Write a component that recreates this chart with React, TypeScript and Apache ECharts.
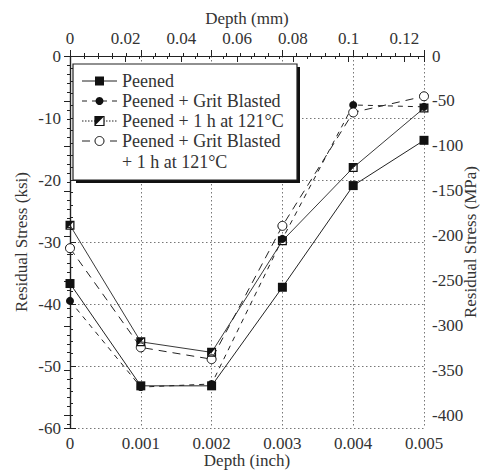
import React, { useEffect, useRef } from "react";
import * as echarts from "echarts";

const depthInch = [0, 0.001, 0.002, 0.003, 0.004, 0.005];
const peened = [-36.7, -53.2, -53.2, -37.3, -20.9, -13.6];
const peenedGrit = [-39.5, -53.4, -52.9, -29.5, -7.9, -8.2];
const peenedHeat = [-27.3, -46.1, -47.8, -29.8, -18.0, -8.4];
const peenedGritHeat = [-31.0, -47.0, -48.9, -27.4, -9.1, -6.5];
const legendNames = [
  "Peened",
  "Peened + Grit Blasted",
  "Peened + 1 h at 121\u00b0C",
  "Peened + Grit Blasted",
  "+ 1 h at 121\u00b0C",
];

const KSI_TO_MPA = 6.894757;
const FONT = "Liberation Serif";
const INK = "#222";
const TXT = "#333";

const halfSquare =
  "path://M0,0 L10,0 L10,10 L0,10 Z M1.4,1.4 L1.4,8.6 L8.6,8.6 L8.6,1.4 Z M0,0 L10,0 L0,10 Z";

function pts(ys: number[]) {
  return depthInch.map((x, i) => [x, ys[i]]);
}

export default function App() {
  const ref = useRef<HTMLDivElement>(null);
  useEffect(() => {
    if (!ref.current) return;
    const chart = echarts.init(ref.current, null, { renderer: "svg" });
    const labelStyle = { color: TXT, fontFamily: FONT, fontSize: 17 };
    const nameStyle = { color: TXT, fontFamily: FONT, fontSize: 17 };
    const axisLine = { show: true, lineStyle: { color: INK, width: 1.2 } };
    const dotted = { show: true, lineStyle: { color: "#777", type: [1.5, 2.5], width: 1 } };

    const lx = 82, rx = 117, mx = 99.5, tx = 122;
    const rows = [81, 101, 121, 141, 162];
    const legendGraphics: any[] = [
      { type: "rect", shape: { x: 76, y: 67, width: 224, height: 116 }, style: { fill: "#111" }, z: 10 },
      { type: "rect", shape: { x: 73, y: 64, width: 224, height: 116 }, style: { fill: "#fff", stroke: INK, lineWidth: 1.2 }, z: 11 },
      { type: "line", shape: { x1: lx, y1: rows[0], x2: rx, y2: rows[0] }, style: { stroke: INK, lineWidth: 1 }, z: 12 },
      { type: "rect", shape: { x: mx - 4.5, y: rows[0] - 4.5, width: 9, height: 9 }, style: { fill: "#111" }, z: 13 },
      { type: "line", shape: { x1: lx, y1: rows[1], x2: rx, y2: rows[1] }, style: { stroke: INK, lineWidth: 1, lineDash: [5, 5] }, z: 12 },
      { type: "circle", shape: { cx: mx, cy: rows[1], r: 4 }, style: { fill: "#111" }, z: 13 },
      { type: "line", shape: { x1: lx, y1: rows[2], x2: rx, y2: rows[2] }, style: { stroke: INK, lineWidth: 1, lineDash: [1.5, 1.5] }, z: 12 },
      { type: "rect", shape: { x: mx - 4.5, y: rows[2] - 4.5, width: 9, height: 9 }, style: { fill: "#fff", stroke: "#111", lineWidth: 1.2 }, z: 13 },
      { type: "polygon", shape: { points: [[mx - 4.5, rows[2] - 4.5], [mx + 4.5, rows[2] - 4.5], [mx - 4.5, rows[2] + 4.5]] }, style: { fill: "#111" }, z: 14 },
      { type: "line", shape: { x1: lx, y1: rows[3], x2: rx, y2: rows[3] }, style: { stroke: INK, lineWidth: 1, lineDash: [8, 6] }, z: 12 },
      { type: "circle", shape: { cx: mx, cy: rows[3], r: 4.5 }, style: { fill: "#fff", stroke: "#111", lineWidth: 1 }, z: 13 },
    ];
    legendNames.forEach((n, i) => {
      legendGraphics.push({
        type: "text",
        x: tx,
        y: rows[i],
        style: { text: n, fill: TXT, fontFamily: FONT, fontSize: 18, verticalAlign: "middle", align: "left" },
        z: 13,
      });
    });

    chart.setOption({
      animation: false,
      backgroundColor: "#fff",
      grid: { left: 70, right: 64, top: 56, bottom: 45, containLabel: false, outerBoundsMode: "none" },
      xAxis: [
        {
          type: "value",
          position: "bottom",
          min: 0,
          max: 0.005,
          interval: 0.001,
          name: "Depth (inch)",
          nameLocation: "middle",
          nameGap: 24,
          nameMoveOverlap: false,
          nameTextStyle: nameStyle,
          axisLine,
          axisTick: { show: true, inside: true, length: 6, lineStyle: { color: INK } },
          minorTick: { show: true, splitNumber: 5, length: 3, lineStyle: { color: INK } },
          axisLabel: { ...labelStyle, margin: 7, formatter: (v: number) => (v === 0 ? "0" : v.toFixed(3)) },
          splitLine: dotted,
        },
        {
          type: "value",
          position: "top",
          min: 0,
          max: 0.005 * 25.4,
          interval: 0.02,
          name: "Depth (mm)",
          nameLocation: "middle",
          nameGap: 29,
          nameMoveOverlap: false,
          nameTextStyle: nameStyle,
          axisLine,
          axisTick: { show: true, inside: true, length: 6, lineStyle: { color: INK } },
          minorTick: { show: true, splitNumber: 4, length: 3, lineStyle: { color: INK } },
          axisLabel: { ...labelStyle, margin: 9, showMaxLabel: false, formatter: (v: number) => (v === 0 ? "0" : String(+v.toFixed(2))) },
          splitLine: { show: false },
        },
      ],
      yAxis: [
        {
          type: "value",
          position: "left",
          min: -60,
          max: 0,
          interval: 10,
          name: "Residual Stress (ksi)",
          nameLocation: "middle",
          nameGap: 40,
          nameMoveOverlap: false,
          nameRotate: 90,
          nameTextStyle: nameStyle,
          axisLine,
          axisTick: { show: true, inside: true, length: 6, lineStyle: { color: INK } },
          minorTick: { show: true, splitNumber: 5, length: 3, lineStyle: { color: INK } },
          axisLabel: { ...labelStyle, margin: 9 },
          splitLine: dotted,
        },
        {
          type: "value",
          position: "right",
          inverse: true,
          min: 0,
          max: 60 * KSI_TO_MPA,
          interval: 50,
          name: "Residual Stress (MPa)",
          nameLocation: "middle",
          nameGap: 38,
          nameMoveOverlap: false,
          nameRotate: 90,
          nameTextStyle: nameStyle,
          axisLine,
          axisTick: { show: true, inside: true, length: 6, lineStyle: { color: INK } },
          minorTick: { show: true, splitNumber: 5, length: 3, lineStyle: { color: INK } },
          axisLabel: { ...labelStyle, margin: 8, showMaxLabel: false, formatter: (v: number) => (v === 0 ? "0" : "-" + v) },
          splitLine: { show: false },
        },
      ],
      series: [
        {
          name: "Peened",
          type: "line",
          xAxisIndex: 0,
          yAxisIndex: 0,
          data: pts(peened),
          clip: false,
          symbol: "rect",
          symbolSize: 9,
          itemStyle: { color: "#111" },
          lineStyle: { color: INK, width: 1 },
          z: 5,
        },
        {
          name: "Peened + Grit Blasted",
          type: "line",
          xAxisIndex: 0,
          yAxisIndex: 0,
          data: pts(peenedGrit),
          clip: false,
          symbol: "circle",
          symbolSize: 8,
          itemStyle: { color: "#111" },
          lineStyle: { color: INK, width: 1, type: [5, 5] },
          z: 4,
        },
        {
          name: "Peened + 1 h at 121\u00b0C",
          type: "line",
          xAxisIndex: 0,
          yAxisIndex: 0,
          data: pts(peenedHeat),
          clip: false,
          symbol: halfSquare,
          symbolSize: 9,
          itemStyle: { color: "#111" },
          lineStyle: { color: INK, width: 0.9 },
          z: 6,
        },
        {
          name: "Peened + Grit Blasted + 1 h at 121\u00b0C",
          type: "line",
          xAxisIndex: 0,
          yAxisIndex: 0,
          data: pts(peenedGritHeat),
          clip: false,
          symbol: "circle",
          symbolSize: 9,
          showAllSymbol: true,
          itemStyle: { color: "#fff", borderColor: "#111", borderWidth: 1 },
          lineStyle: { color: INK, width: 1, type: [8, 6] },
          z: 5,
        },
      ],
      graphic: legendGraphics,
    });
    return () => chart.dispose();
  }, []);
  return (
    <div
      ref={ref}
      style={{ position: "fixed", left: 0, top: 0, width: 488, height: 473, background: "#fff" }}
    />
  );
}
